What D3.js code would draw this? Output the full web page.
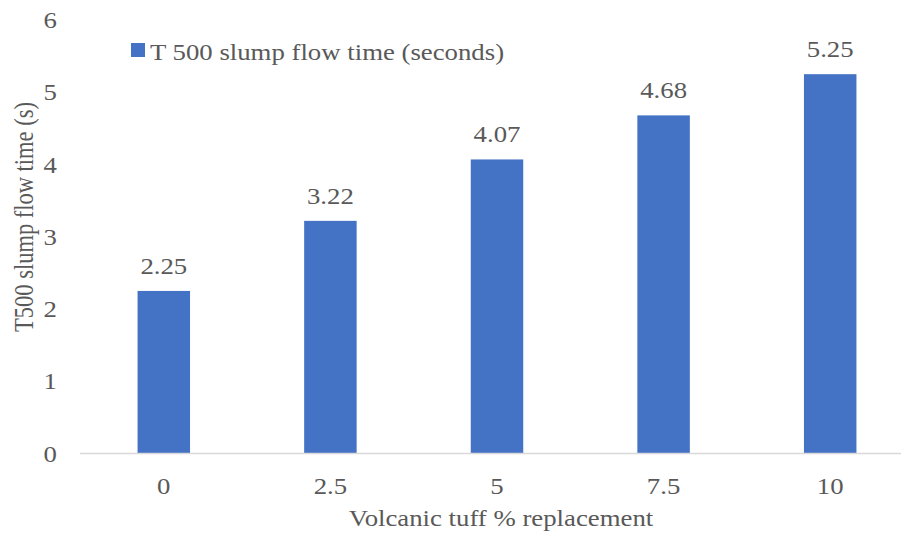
<!DOCTYPE html>
<html><head><meta charset="utf-8">
<script src="https://cdn.jsdelivr.net/npm/d3@7"></script>
<style>body{margin:0;background:#fff} .lbl{font-family:"Liberation Serif",serif}</style>
</head><body><svg id="c" width="901" height="535"></svg>
<script>
const categories = ["0","2.5","5","7.5","10"];
const values = [2.25,3.22,4.07,4.68,5.25];
const yTicks = [0,1,2,3,4,5,6];
const seriesName = "T 500 slump flow time (seconds)";
const xTitle = "Volcanic tuff % replacement";
const yTitle = "T500 slump flow time (s)";

const svg = d3.select("#c");
const x = d3.scaleBand().domain(categories).range([80.5, 913.5]).paddingInner(0.685).paddingOuter(0.3425);
const y = d3.scaleLinear().domain([0,6]).range([453.5, 20]);
const fs = 22.5, sx = 1.19;
const txt = "#595959";
function T(sel){ return sel.classed("lbl",true).attr("font-family","Liberation Serif").style("font-family","'Liberation Serif'").attr("font-size",fs).attr("fill",txt); }
function at(px,py){ return `translate(${px},${py}) scale(${sx},1)`; }

svg.selectAll("rect.bar").data(values).join("rect").attr("class","bar")
  .attr("x",(d,i)=>x(categories[i])).attr("width",x.bandwidth())
  .attr("y",d=>y(d)).attr("height",d=>y(0)-y(d)).attr("fill","#4472C4");

svg.append("line").attr("x1",80).attr("x2",901).attr("y1",y(0)).attr("y2",y(0))
  .attr("stroke","#D9D9D9").attr("stroke-width",1.5);

T(svg.selectAll("text.yt").data(yTicks).join("text").attr("class","yt"))
  .attr("transform",d=>at(57,y(d)+8)).attr("text-anchor","end").text(d=>d);

T(svg.selectAll("text.xt").data(categories).join("text").attr("class","xt"))
  .attr("transform",d=>at(x(d)+x.bandwidth()/2,493.5)).attr("text-anchor","middle").text(d=>d);

T(svg.selectAll("text.dl").data(values).join("text").attr("class","dl"))
  .attr("transform",(d,i)=>at(x(categories[i])+x.bandwidth()/2,y(d)-17))
  .attr("text-anchor","middle").text(d=>d.toFixed(2));

svg.append("rect").attr("x",131).attr("y",43).attr("width",14).attr("height",14).attr("fill","#4472C4");
T(svg.append("text")).attr("transform",at(150,60)).text(seriesName);

T(svg.append("text")).attr("transform",at(501,526)).attr("text-anchor","middle").text(xTitle);
T(svg.append("text")).attr("transform",`translate(33,217) scale(${sx},1) rotate(-90)`).attr("text-anchor","middle").text(yTitle);
</script></body></html>
